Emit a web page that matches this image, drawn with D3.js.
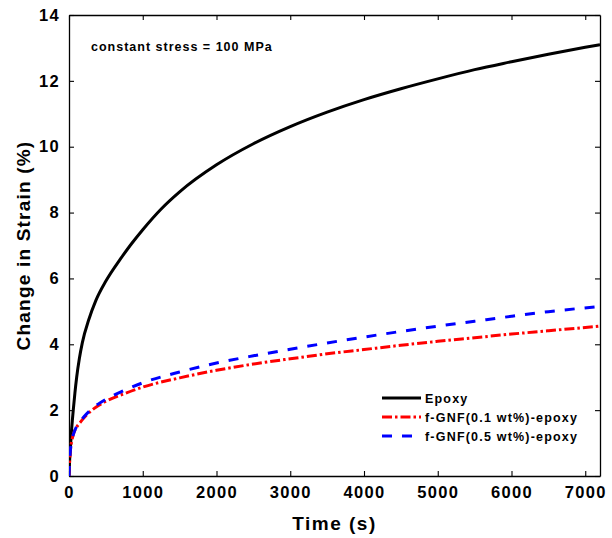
<!DOCTYPE html>
<html>
<head>
<meta charset="utf-8">
<script src="https://cdn.jsdelivr.net/npm/d3@7"></script>
<style>
  body { margin: 0; background: #fff; }
  text { font-family: "Liberation Sans", Arial, sans-serif; font-weight: bold; }
</style>
</head>
<body>
<div id="chart"></div>
<script>
// time (s) sample points
const epoxyTime = [0, 8, 18, 31, 45, 59, 80, 104, 140, 181, 270, 362, 500, 700, 850, 1000, 1250, 1500, 2000, 2500, 3000, 3500, 4000, 4500, 5000, 5500, 6000, 6500, 7000, 7200];
const epoxyStrain = [0, 0.45, 0.82, 1.28, 1.68, 2.03, 2.52, 3.0, 3.56, 4.05, 4.76, 5.32, 5.92, 6.6, 7.06, 7.48, 8.11, 8.63, 9.45, 10.09, 10.61, 11.05, 11.43, 11.76, 12.06, 12.34, 12.58, 12.81, 13.02, 13.1];

const gnf01Time = [0, 5, 10, 20, 30, 45, 60, 100, 150, 200, 300, 400, 500, 750, 1000, 1500, 2000, 2500, 3000, 3500, 4000, 4500, 5000, 5500, 6000, 6500, 7200];
const gnf01Strain = [0, 0.3, 0.5, 0.8, 0.98, 1.14, 1.27, 1.47, 1.62, 1.76, 1.98, 2.14, 2.27, 2.5, 2.7, 2.98, 3.21, 3.4, 3.56, 3.71, 3.84, 3.97, 4.09, 4.2, 4.31, 4.41, 4.55];

const gnf05Time = [0, 5, 10, 20, 30, 45, 60, 100, 150, 200, 300, 400, 500, 750, 1000, 1500, 2000, 2500, 3000, 3500, 4000, 4500, 5000, 5500, 6000, 6500, 7200];
const gnf05Strain = [0, 0.3, 0.5, 0.8, 0.98, 1.14, 1.27, 1.49, 1.65, 1.79, 2.02, 2.19, 2.33, 2.6, 2.83, 3.16, 3.43, 3.65, 3.85, 4.04, 4.22, 4.39, 4.55, 4.7, 4.85, 4.99, 5.15];

const xTicks = [0, 1000, 2000, 3000, 4000, 5000, 6000, 7000];
const yTicks = [0, 2, 4, 6, 8, 10, 12, 14];

const seriesNames = ["Epoxy", "f-GNF(0.1 wt%)-epoxy", "f-GNF(0.5 wt%)-epoxy"];
const seriesColors = ["#000000", "#ff0000", "#0000ff"];
const seriesDash = [null, "10,3,2.5,3", "10,10"];

const width = 612, height = 538;
const margin = {top: 15, right: 12, bottom: 62, left: 69};

const svg = d3.select("#chart").append("svg")
  .attr("width", width).attr("height", height);

const x = d3.scaleLinear().domain([0, 7200]).range([margin.left, width - margin.right]);
const y = d3.scaleLinear().domain([0, 14]).range([height - margin.bottom, margin.top]);

const tickLen = 5;
const fmt = d3.format("d");

// axes, MATLAB style: ticks inside, box all round
const xAxisB = d3.axisBottom(x).tickValues(xTicks).tickFormat(fmt).tickSizeInner(-tickLen).tickSizeOuter(0).tickPadding(10);
const xAxisT = d3.axisTop(x).tickValues(xTicks).tickSizeInner(-tickLen).tickSizeOuter(0).tickFormat("");
const yAxisL = d3.axisLeft(y).tickValues(yTicks).tickFormat(fmt).tickSizeInner(-tickLen).tickSizeOuter(0).tickPadding(9);
const yAxisR = d3.axisRight(y).tickValues(yTicks).tickSizeInner(-tickLen).tickSizeOuter(0).tickFormat("");

const styleAxis = g => {
  g.select(".domain").attr("stroke", "#000").attr("stroke-width", 1.3);
  g.selectAll(".tick line").attr("stroke", "#000").attr("stroke-width", 1.1);
  g.selectAll(".tick text").attr("fill", "#000").attr("font-size", 16.5).attr("font-weight", "bold")
    .attr("letter-spacing", 1.3)
    .attr("font-family", "Liberation Sans, Arial, sans-serif");
};

svg.append("g").attr("transform", `translate(0,${y(0)})`).call(xAxisB).call(styleAxis);
svg.append("g").attr("transform", `translate(0,${y(14)})`).call(xAxisT).call(styleAxis);
svg.append("g").attr("transform", `translate(${x(0)},0)`).call(yAxisL).call(styleAxis);
svg.append("g").attr("transform", `translate(${x(7200)},0)`).call(yAxisR).call(styleAxis);

// curves
const line = d3.line().x(d => x(d[0])).y(d => y(d[1])).curve(d3.curveMonotoneX);
const series = [
  d3.zip(epoxyTime, epoxyStrain),
  d3.zip(gnf01Time, gnf01Strain),
  d3.zip(gnf05Time, gnf05Strain)
];

svg.append("clipPath").attr("id", "clip").append("rect")
  .attr("x", x(0)).attr("y", y(14)).attr("width", x(7200) - x(0)).attr("height", y(0) - y(14));

series.forEach((s, i) => {
  svg.append("path")
    .datum(s)
    .attr("clip-path", "url(#clip)")
    .attr("fill", "none")
    .attr("stroke", seriesColors[i])
    .attr("stroke-width", 3)
    .attr("stroke-dasharray", seriesDash[i])
    .attr("d", line);
});

// annotation
svg.append("text").attr("x", 91).attr("y", 51).attr("font-size", 12.5).attr("letter-spacing", 1)
  .attr("fill", "#000").text("constant stress = 100 MPa");

// legend
const legend = svg.append("g").attr("transform", "translate(382,398)");
seriesNames.forEach((name, i) => {
  const row = legend.append("g").attr("transform", `translate(0,${i * 19})`);
  row.append("line").attr("x1", 0).attr("x2", 39).attr("y1", 0).attr("y2", 0)
    .attr("stroke", seriesColors[i]).attr("stroke-width", 3)
    .attr("stroke-dasharray", seriesDash[i]);
  row.append("text").attr("x", 43).attr("y", 4.5).attr("font-size", 12.5).attr("letter-spacing", 1.2)
    .attr("fill", "#000").text(name);
});

// axis titles
svg.append("text").attr("x", x(3600)).attr("y", 530).attr("text-anchor", "middle")
  .attr("font-size", 19).attr("letter-spacing", 1.5).attr("fill", "#000").text("Time (s)");
svg.append("text").attr("transform", `translate(30,${(y(0) + y(14)) / 2}) rotate(-90)`)
  .attr("text-anchor", "middle").attr("font-size", 19).attr("letter-spacing", 1.2)
  .attr("fill", "#000").text("Change in Strain (%)");
</script>
</body>
</html>
